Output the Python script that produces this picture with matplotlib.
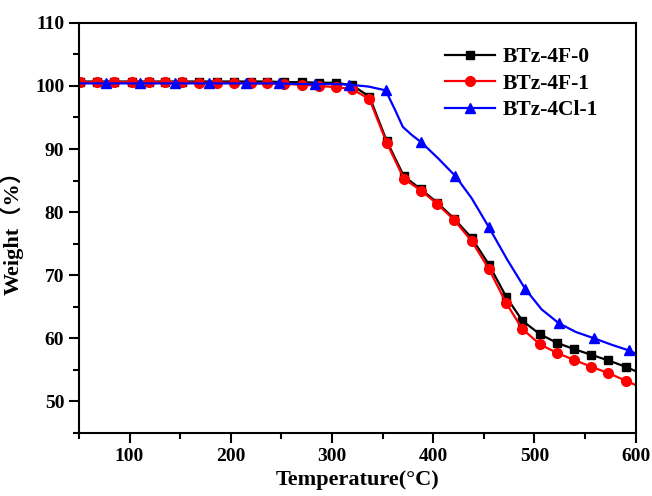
import numpy as np
import matplotlib.pyplot as plt
from matplotlib.ticker import MultipleLocator

# TGA curves, weight (%) vs temperature (°C)
temp_f = [51, 68, 85, 102, 119, 135, 152, 169, 186, 203, 220, 236, 253, 270,
          287, 304, 320, 337, 354, 371, 388, 404, 421, 438, 455, 472, 488, 505,
          522, 539, 556, 573, 590, 600]
w_4f0 = [100.7, 100.7, 100.7, 100.7, 100.7, 100.7, 100.7, 100.7, 100.7, 100.7,
         100.7, 100.7, 100.6, 100.6, 100.5, 100.5, 100.1, 98.3, 91.3, 85.7,
         83.6, 81.5, 78.9, 75.9, 71.7, 66.6, 62.8, 60.7, 59.3, 58.3, 57.4,
         56.5, 55.5, 54.8]
w_4f1 = [100.6, 100.6, 100.6, 100.6, 100.6, 100.6, 100.6, 100.5, 100.5, 100.5,
         100.4, 100.4, 100.3, 100.2, 100.0, 99.8, 99.5, 97.9, 91.0, 85.3,
         83.4, 81.3, 78.7, 75.4, 71.0, 65.6, 61.5, 59.1, 57.7, 56.6, 55.5,
         54.5, 53.3, 52.6]

temp_cl = [50, 77, 94, 110, 128, 145, 162, 179, 197, 215, 232, 248, 266, 283,
           300, 317, 336, 353, 362, 370, 379, 388, 405, 422, 438, 455, 473, 491,
           507, 524, 541, 559, 576, 593, 600]
w_4cl1 = [100.4, 100.4, 100.4, 100.4, 100.4, 100.4, 100.4, 100.4, 100.4, 100.4,
          100.4, 100.4, 100.3, 100.3, 100.3, 100.2, 99.9, 99.3, 96.3, 93.5,
          92.2, 91.1, 88.5, 85.7, 82.2, 77.6, 72.5, 67.8, 64.6, 62.4, 61.0,
          60.0, 59.0, 58.1, 57.6]
cl_marks = [77, 110, 145, 179, 215, 248, 283, 317, 353, 388, 422, 455, 491,
            524, 559, 593]

plt.rcParams['font.family'] = ['Liberation Serif', 'Noto Sans CJK SC']
plt.rcParams['font.weight'] = 'bold'

fig = plt.figure(figsize=(6.52, 4.96), dpi=100)
ax = fig.add_axes([0.121, 0.127, 0.854, 0.827])

ax.plot(temp_f, w_4f0, color='black', lw=1.6, marker='s', ms=5.5,
        markevery=list(range(len(temp_f) - 1)), label='BTz-4F-0')
ax.plot(temp_f, w_4f1, color='red', lw=1.6, marker='o', ms=7,
        markevery=list(range(len(temp_f) - 1)), label='BTz-4F-1')
mk = [i for i, t in enumerate(temp_cl) if t in cl_marks]
ax.plot(temp_cl, w_4cl1, color='blue', lw=1.6, marker='^', ms=7.5,
        markevery=mk, label='BTz-4Cl-1')

ax.set_xlim(50, 600)
ax.set_ylim(45, 110)
ax.xaxis.set_major_locator(MultipleLocator(100))
ax.xaxis.set_minor_locator(MultipleLocator(50))
ax.yaxis.set_major_locator(MultipleLocator(10))
ax.yaxis.set_minor_locator(MultipleLocator(5))
ax.tick_params(which='major', direction='out', length=7, width=1.5,
               labelsize=14, top=False, right=False)
ax.tick_params(which='minor', direction='out', length=4, width=1.5,
               top=False, right=False)
for s in ax.spines.values():
    s.set_linewidth(1.5)

ax.set_xlabel('Temperature(°C)', fontsize=16, fontweight='bold', labelpad=4)
ax.set_ylabel('Weight（%）', fontsize=16, fontweight='bold', labelpad=8)

ax.legend(loc='upper right', bbox_to_anchor=(0.968, 0.988), frameon=False,
          fontsize=15.5, handlelength=2.3, labelspacing=0.3,
          handletextpad=0.4)

fig.savefig('out.png', dpi=100)
